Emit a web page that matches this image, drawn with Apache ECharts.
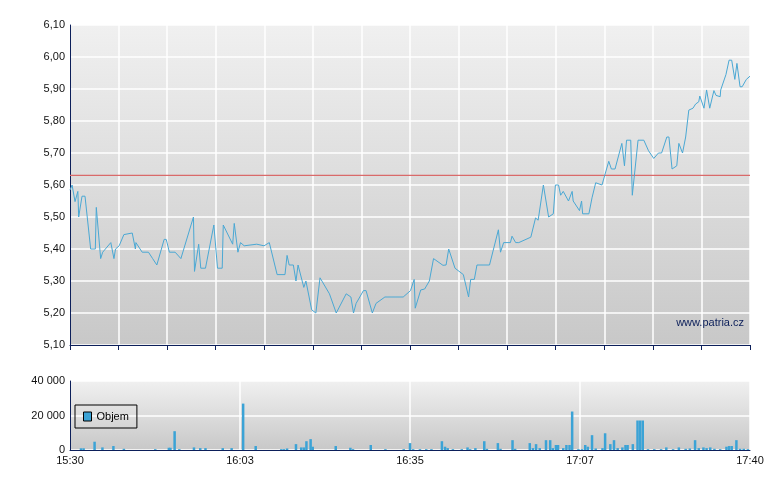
<!DOCTYPE html>
<html><head><meta charset="utf-8">
<script src="https://cdn.jsdelivr.net/npm/echarts@6/dist/echarts.min.js"></script>
<style>html,body{margin:0;padding:0;background:#fff}#c{width:780px;height:490px}</style>
</head><body><div id="c"></div>
<script>
// minutes since 15:30
const priceMinutes = [0,0.4,0.96,1.5,1.66,2.3,2.87,3.95,4.84,5.03,5.86,6.25,7.8,8.4,8.7,9.4,10.3,11.9,12.5,12.6,13.8,15.0,15.8,16.6,18.0,18.4,19.0,20.1,21.2,23.6,23.8,24.6,25.0,25.9,27.5,28.2,29.1,29.3,31.1,31.4,32.1,32.6,33.3,35.7,37.1,38.1,39.6,41.1,41.5,41.9,42.7,43.2,43.6,44.7,45.1,46.2,47.0,47.8,49.6,50.9,52.8,53.7,54.2,54.7,55.4,56.1,56.6,57.8,58.5,60.2,63.7,65.1,65.8,66.0,67.05,67.8,68.7,69.5,71.3,71.9,72.4,73.6,75.2,76.2,76.6,77.3,77.8,80.2,81.9,82.3,82.9,84.2,84.5,85.2,85.8,88.1,89.0,89.5,90.5,91.5,92.4,92.8,93.4,93.8,94.3,95.3,96.0,96.2,97.4,97.8,98.0,99.2,99.8,100.5,101.7,103.0,103.5,104.2,105.5,106.0,106.4,107.2,107.5,108.6,109.7,110.6,111.6,112.5,113.1,114.1,114.5,115.1,116.0,116.4,117.1,117.7,118.3,119.1,119.6,120.2,120.4,121.2,121.7,121.9,122.3,123.1,123.5,124.3,124.4,125.4,126.0,126.5,127.1,127.5,128.1,128.5,129.3,130.0];
const priceValues = [5.584,5.60,5.548,5.58,5.50,5.565,5.565,5.40,5.40,5.53,5.37,5.39,5.42,5.37,5.40,5.41,5.445,5.45,5.40,5.42,5.39,5.39,5.37,5.35,5.43,5.43,5.39,5.39,5.37,5.50,5.33,5.415,5.34,5.34,5.475,5.34,5.34,5.475,5.415,5.48,5.39,5.42,5.41,5.415,5.41,5.42,5.32,5.32,5.38,5.35,5.35,5.30,5.35,5.28,5.30,5.21,5.20,5.31,5.26,5.20,5.26,5.25,5.20,5.23,5.25,5.27,5.27,5.20,5.23,5.25,5.25,5.27,5.305,5.215,5.272,5.275,5.30,5.37,5.349,5.35,5.40,5.34,5.32,5.25,5.305,5.305,5.35,5.35,5.46,5.39,5.42,5.42,5.44,5.42,5.42,5.437,5.497,5.49,5.60,5.50,5.51,5.60,5.60,5.568,5.58,5.55,5.58,5.55,5.52,5.55,5.51,5.51,5.56,5.607,5.60,5.674,5.65,5.65,5.73,5.66,5.74,5.74,5.568,5.74,5.74,5.707,5.683,5.70,5.70,5.75,5.75,5.65,5.66,5.73,5.70,5.75,5.834,5.84,5.853,5.86,5.878,5.84,5.897,5.897,5.84,5.895,5.88,5.876,5.897,5.945,5.99,5.99,5.93,5.98,5.907,5.907,5.93,5.94];
const refPrice = 5.63;
const volMinutes = [2.1,2.6,4.7,6.2,8.3,10.3,16.3,18.9,19.2,20.0,20.9,23.7,24.9,25.9,29.2,30.9,33.1,35.5,40.4,40.9,41.5,43.2,44.2,44.7,45.2,46.0,46.4,50.8,53.6,54.1,57.5,60.3,63.8,65.0,65.6,66.9,68.1,69.1,71.1,71.7,72.2,73.2,74.9,76.0,76.5,77.5,79.2,79.7,81.8,82.3,84.6,85.1,87.9,88.5,89.1,89.8,91.0,91.8,92.3,92.9,93.3,94.3,94.9,95.5,96.0,97.2,97.9,98.5,99.0,99.8,100.5,101.8,102.3,103.3,104.0,104.7,105.6,106.2,106.6,107.6,108.5,109.0,109.5,110.5,111.7,113.0,114.0,115.3,116.4,117.7,118.5,119.5,120.2,121.1,121.7,122.4,123.2,124.3,125.5,126.0,126.5,127.4,128.1,128.8,129.6];
const volValues = [1000,1000,4800,1500,2300,700,500,1300,1300,10900,500,1500,1100,1100,1100,1100,26900,2300,500,500,900,3400,1500,1500,5100,6300,1900,2300,1300,500,2900,500,500,4000,500,500,500,500,5100,1900,1100,500,500,1500,500,1100,5100,700,4000,700,5700,700,4000,1100,3400,1100,5700,5700,1100,2900,2900,1100,2900,2900,22300,500,500,2900,1900,8600,900,1100,9700,3400,5700,1100,1500,2900,2900,3400,17100,17100,17100,500,500,500,1500,500,1500,700,900,5700,1100,1500,1100,1500,700,500,1900,2300,2300,5700,700,700,500];
const timeLabels = {0:'15:30',32.5:'16:03',65:'16:35',97.5:'17:07',130:'17:40'};
const priceTicks = [5.1,6.1,0.1];

const bg = {type:'linear',x:0,y:0,x2:0,y2:1,colorStops:[{offset:0,color:'#f0f0f0'},{offset:1,color:'#c8c8c8'}]};
const navy = '#0c1f5a';
const chart = echarts.init(document.getElementById('c'));
chart.setOption({
  animation:false,
  graphic:[{type:'text',right:36,top:317,style:{text:'www.patria.cz',fill:navy,font:'11px Arial'},z:100}],
  legend:{data:[{name:'Objem',icon:'rect',itemStyle:{borderColor:'#000',borderWidth:1}}],left:75,top:405,orient:'vertical',padding:[6,8],borderColor:'#000',borderWidth:1,borderRadius:0,itemWidth:8,itemHeight:9,itemGap:4,textStyle:{fontSize:11,color:'#000',fontFamily:'Arial'},backgroundColor:'rgba(0,0,0,0)'},
  grid:[
    {left:70,right:30,top:25,height:320,show:true,backgroundColor:bg,borderWidth:0},
    {left:70,right:30,top:381,height:69,show:true,backgroundColor:bg,borderWidth:0}
  ],
  xAxis:[
    {gridIndex:0,type:'value',min:0,max:130,interval:130/14,axisLabel:{show:false},
     axisLine:{lineStyle:{color:navy}},axisTick:{show:true,length:5,lineStyle:{color:navy}},
     splitLine:{lineStyle:{color:'#fff',width:1.5}}},
    {gridIndex:1,type:'value',min:0,max:130,interval:32.5,
     axisLabel:{formatter:v=>timeLabels[v]||'',fontSize:11,color:'#111',fontFamily:'Arial',margin:5},
     axisLine:{lineStyle:{color:navy}},axisTick:{show:false},
     splitLine:{lineStyle:{color:'#fff',width:1.5}}}
  ],
  yAxis:[
    {gridIndex:0,type:'value',min:priceTicks[0],max:priceTicks[1],interval:priceTicks[2],
     axisLabel:{formatter:v=>v.toFixed(2).replace('.',','),fontSize:11,color:'#111',fontFamily:'Arial',margin:5},
     axisLine:{show:true,lineStyle:{color:navy}},axisTick:{show:false},
     splitLine:{lineStyle:{color:'#fff',width:1.5}}},
    {gridIndex:1,type:'value',min:0,max:40000,interval:20000,
     axisLabel:{formatter:v=>v===0?'0':(v/1000)+' 000',fontSize:11,color:'#111',fontFamily:'Arial',margin:5},
     axisLine:{show:true,lineStyle:{color:navy}},axisTick:{show:false},
     splitLine:{lineStyle:{color:'#fff',width:1.5}}}
  ],
  series:[
    {type:'line',name:'Ref',xAxisIndex:0,yAxisIndex:0,data:[[0,refPrice],[130,refPrice]],
     showSymbol:false,silent:true,lineStyle:{color:'#d96a6a',width:1.3},z:1},
    {type:'line',name:'Cena',xAxisIndex:0,yAxisIndex:0,data:priceMinutes.map((m,i)=>[m,priceValues[i]]),
     showSymbol:false,lineStyle:{color:'#4aa8d4',width:1},z:3},
    {type:'bar',name:'Objem',xAxisIndex:1,yAxisIndex:1,data:volMinutes.map((m,i)=>[m,volValues[i]]),
     barWidth:2.5,itemStyle:{color:'#3ba3d6'}}
  ]
});
</script></body></html>
